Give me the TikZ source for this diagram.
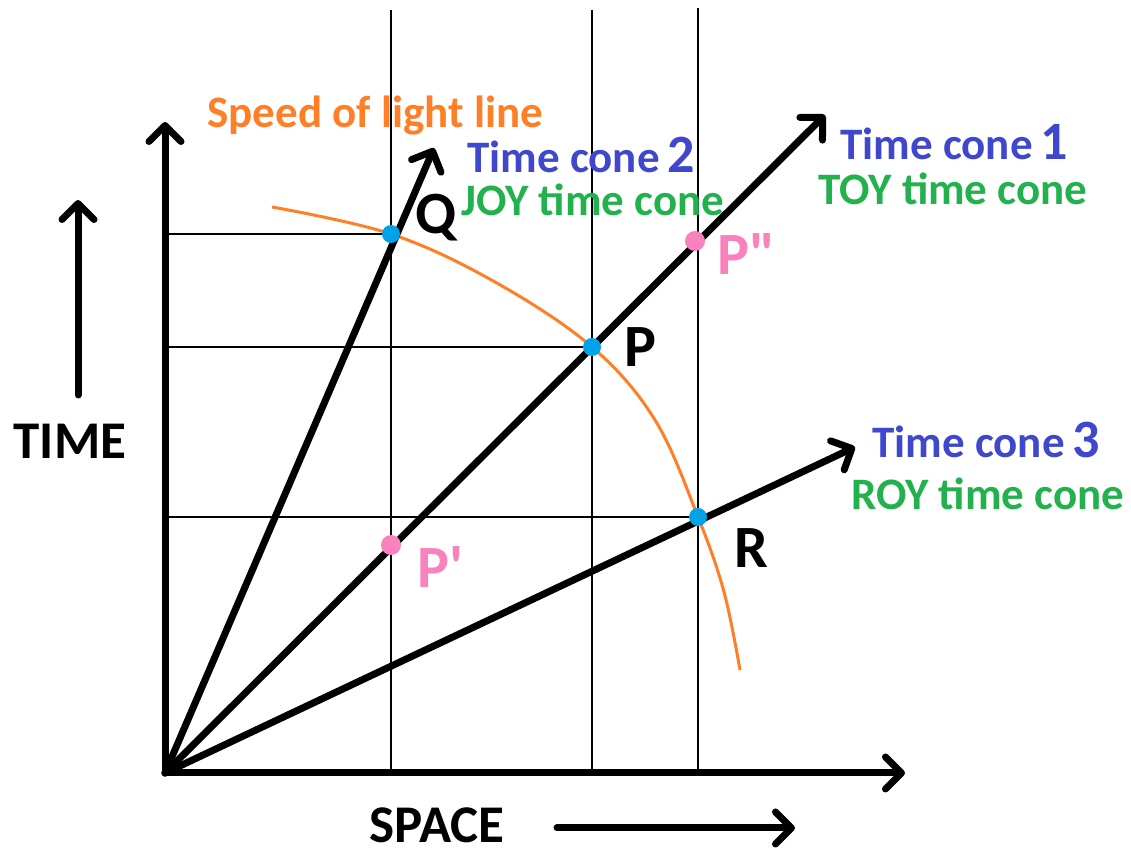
\documentclass[tikz,border=0pt]{standalone}
\usepackage{fontspec}
\setmainfont{Carlito}
\usepackage{tikz}
\usetikzlibrary{arrows.meta,positioning}
\definecolor{lightorange}{RGB}{255,127,39}
\definecolor{conenavy}{RGB}{63,72,204}
\definecolor{conegreen}{RGB}{34,177,76}
\definecolor{eventpink}{RGB}{247,130,190}
\definecolor{eventcyan}{RGB}{0,162,232}
\newcommand{\bignum}[1]{{\fontsize{27}{30}\selectfont #1}}

\begin{document}
\begin{tikzpicture}[
  x=0.5pt, y=-0.5pt,
  every node/.style={font=\bfseries\fontsize{22.5}{26}\selectfont, inner sep=0pt},
  arr/.style={line width=3.5pt, line cap=round, -{Straight Barb[round, length=8pt, width=16pt]}},
  gridline/.style={line width=0.8pt},
  lightline/.style={lightorange, line width=1.5pt},
  bluedot/.style={fill=eventcyan},
  pinkdot/.style={fill=eventpink},
  eventtext/.style={font=\bfseries\fontsize{30}{34}\selectfont, anchor=west},
  axistext/.style={font=\bfseries\fontsize{26.5}{30}\selectfont, anchor=base, text depth=0pt},
  labeltext/.style={anchor=west, text height=0.7em, text depth=0.06em},
  conetext/.style={labeltext, text=conenavy},
  toytext/.style={labeltext, text=conegreen}
]
\useasboundingbox (0,0) rectangle (1131,854);

% Events
\coordinate (O) at (165,773);
\coordinate (Q) at (391,234);
\coordinate (P) at (592,347);
\coordinate (R) at (698,517);
\coordinate (P1) at (391,545);
\coordinate (P2) at (695,241);

% Arrow ends
\coordinate (ytip) at (165,122);
\coordinate (xtip) at (905,773);
\coordinate (tip1) at (825,115);
\coordinate (tip2) at (434,148);
\coordinate (tip3) at (855,447);

% Grid
\coordinate (g1) at (391,10);
\coordinate (g2) at (592,10);
\coordinate (g3) at (698,8);
\draw[gridline] (g1) -- (O -| g1);
\draw[gridline] (g2) -- (O -| g2);
\draw[gridline] (g3) -- (O -| g3);
\draw[gridline] (O |- Q) -- (Q);
\draw[gridline] (O |- P) -- (P);
\draw[gridline] (O |- R) -- (R);

% Speed of light line
\draw[lightline] plot[smooth, tension=0.6] coordinates
  {(272,207) (391,234) (495,282) (592,347) (655,420) (698,517) (724,592) (740,670)};

% Axes and cones
\draw[arr] (O) -- (ytip);
\draw[arr] (O) -- (xtip);
\draw[arr] (O) -- (tip1);
\draw[arr] (O) -- (tip2);
\draw[arr] (O) -- (tip3);

% Dots
\fill[bluedot] (Q) circle (4.5pt);
\fill[bluedot] (P) circle (4.5pt);
\fill[bluedot] (R) circle (4.5pt);
\fill[pinkdot] (P1) circle (5pt);
\fill[pinkdot] (P2) circle (5pt);

% Event labels
\node[eventtext, right=12pt of Q, yshift=8pt] (qlabel) {Q};
\node[eventtext, right=16pt of P, yshift=0pt] (plabel) {P};
\node[eventtext, right=18pt of R, yshift=-15.5pt] (rlabel) {R};
\node[eventtext, right=13pt of P1, yshift=-11pt, text=eventpink] (p1label) {P\textquotesingle};
\node[eventtext, right=11pt of P2, yshift=-6.5pt, text=eventpink] (p2label) {P\textquotedbl};

% Cone labels
\node[labeltext, text=lightorange] (light) at (207,121) {Speed of light line};
\node[conetext] (cone2) at (467,166) {Time cone\,\bignum{2}};
\node[toytext] (joy) at (461,209) {JOY time cone};
\node[conetext] (cone1) at (840,153) {Time cone\,\bignum{1}};
\node[toytext] (toy) at (818,198) {TOY time cone};
\node[conetext] (cone3) at (872,451) {Time cone\,\bignum{3}};
\node[toytext] (roy) at (851,503) {ROY time cone};

% Axis names
\node[axistext] (time) at (70,459) {TIME};
\coordinate (tbot) at (78,395);
\coordinate (ttop) at (78,200);
\draw[arr] (tbot) -- (ttop);
\node[axistext] (space) at (437,843) {SPACE};
\coordinate (sleft) at (557,828);
\coordinate (sright) at (795,828);
\draw[arr] (sleft) -- (sright);

\end{tikzpicture}
\end{document}
